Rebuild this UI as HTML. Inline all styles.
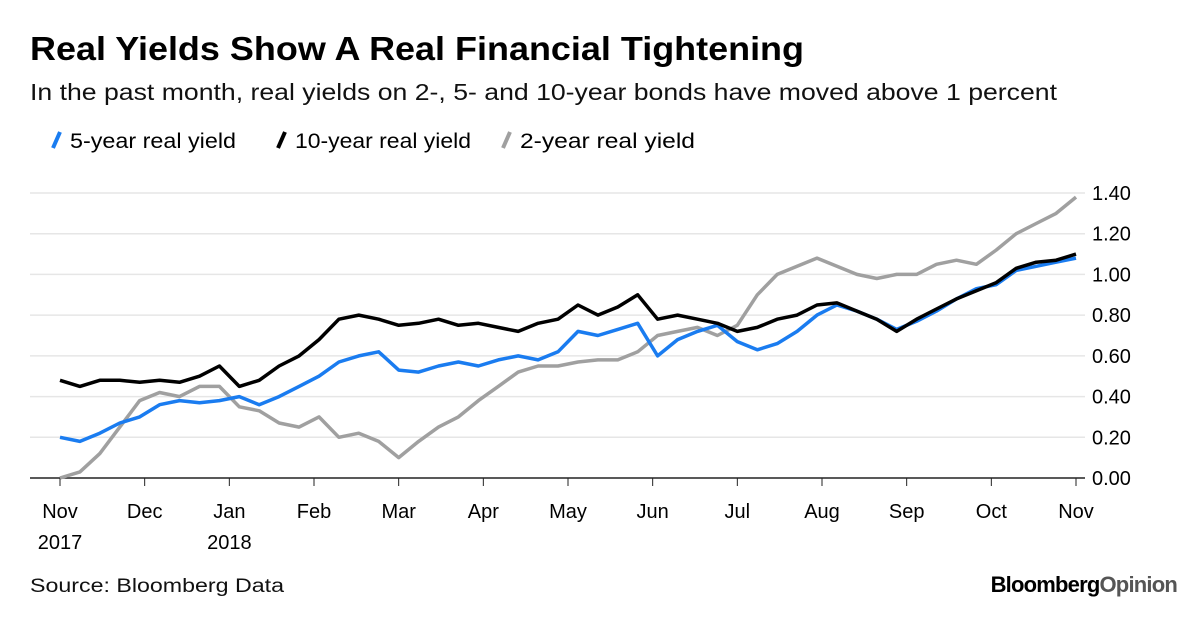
<!DOCTYPE html>
<html><head><meta charset="utf-8"><style>
body{margin:0;background:#fff;width:1200px;height:612px;overflow:hidden;font-family:"Liberation Sans",sans-serif}
</style></head><body>
<svg id="c" width="1200" height="612" xmlns="http://www.w3.org/2000/svg">
<text x="30" y="60" font-size="33" font-weight="bold" fill="#000" textLength="774" lengthAdjust="spacingAndGlyphs">Real Yields Show A Real Financial Tightening</text>
<text x="30" y="100" font-size="23" fill="#111" textLength="1027" lengthAdjust="spacingAndGlyphs">In the past month, real yields on 2-, 5- and 10-year bonds have moved above 1 percent</text>
<g>
<line x1="53" y1="148" x2="60" y2="132" stroke="#1a7cf0" stroke-width="4"/>
<text x="70" y="148" font-size="21" textLength="166" lengthAdjust="spacingAndGlyphs">5-year real yield</text>
<line x1="278" y1="148" x2="285" y2="132" stroke="#000" stroke-width="4"/>
<text x="295" y="148" font-size="21" textLength="176" lengthAdjust="spacingAndGlyphs">10-year real yield</text>
<line x1="503" y1="148" x2="510" y2="132" stroke="#a0a0a0" stroke-width="4"/>
<text x="520" y="148" font-size="21" textLength="175" lengthAdjust="spacingAndGlyphs">2-year real yield</text>
</g>
<g id="grid"></g><g id="series"></g>
<text x="30" y="592" font-size="19" fill="#111" textLength="254" lengthAdjust="spacingAndGlyphs">Source: Bloomberg Data</text>
<text x="1177" y="592" font-size="22" font-weight="bold" text-anchor="end" letter-spacing="-0.8">Bloomberg<tspan fill="#555">Opinion</tspan></text>
</svg>
<script>
const yTicks=[0,0.2,0.4,0.6,0.8,1.0,1.2,1.4];
const months=["Nov","Dec","Jan","Feb","Mar","Apr","May","Jun","Jul","Aug","Sep","Oct","Nov"];
const years=["2017","","2018","","","","","","","","","",""];
const fiveYear=[0.20,0.18,0.22,0.27,0.30,0.36,0.38,0.37,0.38,0.40,0.36,0.40,0.45,0.50,0.57,0.60,0.62,0.53,0.52,0.55,0.57,0.55,0.58,0.60,0.58,0.62,0.72,0.70,0.73,0.76,0.60,0.68,0.72,0.75,0.67,0.63,0.66,0.72,0.80,0.85,0.82,0.78,0.73,0.77,0.82,0.88,0.93,0.95,1.02,1.04,1.06,1.08];
const tenYear=[0.48,0.45,0.48,0.48,0.47,0.48,0.47,0.50,0.55,0.45,0.48,0.55,0.60,0.68,0.78,0.80,0.78,0.75,0.76,0.78,0.75,0.76,0.74,0.72,0.76,0.78,0.85,0.80,0.84,0.90,0.78,0.80,0.78,0.76,0.72,0.74,0.78,0.80,0.85,0.86,0.82,0.78,0.72,0.78,0.83,0.88,0.92,0.96,1.03,1.06,1.07,1.10];
const twoYear=[0.00,0.03,0.12,0.25,0.38,0.42,0.40,0.45,0.45,0.35,0.33,0.27,0.25,0.30,0.20,0.22,0.18,0.10,0.18,0.25,0.30,0.38,0.45,0.52,0.55,0.55,0.57,0.58,0.58,0.62,0.70,0.72,0.74,0.70,0.75,0.90,1.00,1.04,1.08,1.04,1.00,0.98,1.00,1.00,1.05,1.07,1.05,1.12,1.20,1.25,1.30,1.38];
const X0=60,X1=1076,Y0=478,YTOP=193;
const y=v=>Y0-(v/1.4)*(Y0-YTOP);
const xi=(i,n)=>X0+i/(n-1)*(X1-X0);
const NS="http://www.w3.org/2000/svg";
const grid=document.getElementById('grid'),ser=document.getElementById('series');
yTicks.forEach(t=>{
 const l=document.createElementNS(NS,'line');
 l.setAttribute('x1',30);l.setAttribute('x2',1085);l.setAttribute('y1',y(t));l.setAttribute('y2',y(t));
 l.setAttribute('stroke',t===0?'#222':'#e6e6e6');l.setAttribute('stroke-width',1.5);
 
 
 grid.appendChild(l);
 const tx=document.createElementNS(NS,'text');
 tx.setAttribute('x',1092);tx.setAttribute('y',y(t)+7);tx.setAttribute('font-size','20');
 tx.textContent=t.toFixed(2);
 
 
 grid.appendChild(tx);
});
months.forEach((m,i)=>{
 const x=X0+i/(months.length-1)*(X1-X0);
 const tk=document.createElementNS(NS,'line');
 tk.setAttribute('x1',x);tk.setAttribute('x2',x);tk.setAttribute('y1',Y0);tk.setAttribute('y2',Y0+8);tk.setAttribute('stroke','#222');
 
 
 grid.appendChild(tk);
 const tx=document.createElementNS(NS,'text');
 tx.setAttribute('x',x);tx.setAttribute('y',518);tx.setAttribute('font-size','20');tx.setAttribute('text-anchor','middle');
 tx.textContent=m;
 
 
 grid.appendChild(tx);
 if(years[i]){const ty=document.createElementNS(NS,'text');
 ty.setAttribute('x',x);ty.setAttribute('y',549);ty.setAttribute('font-size','20');ty.setAttribute('text-anchor','middle');
 ty.textContent=years[i];
 
 
 grid.appendChild(ty);}
});
[[twoYear,'#a0a0a0','line-2yr'],[fiveYear,'#1a7cf0','line-5yr'],[tenYear,'#000','line-10yr']].forEach(([d,c,n])=>{
 const p=document.createElementNS(NS,'path');
 p.setAttribute('d',d.map((v,i)=>(i?'L':'M')+xi(i,d.length).toFixed(1)+','+y(v).toFixed(1)).join(''));
 p.setAttribute('fill','none');p.setAttribute('stroke',c);p.setAttribute('stroke-width',3.5);p.setAttribute('stroke-linejoin','round');
 
 
 ser.appendChild(p);
});
</script>
</body></html>
